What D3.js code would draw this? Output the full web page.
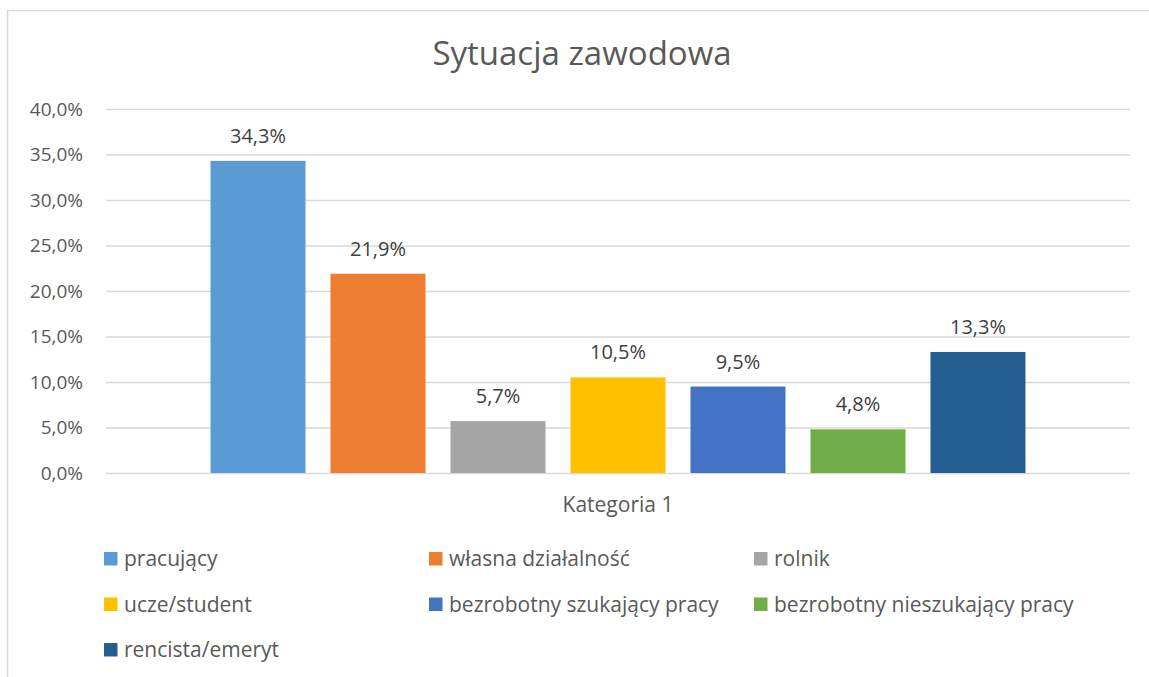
<!DOCTYPE html>
<html>
<head>
<meta charset="utf-8">
<script src="https://cdn.jsdelivr.net/npm/d3@7"></script>
<style>
  html, body { margin: 0; padding: 0; background: #fff; }
  svg { display: block; }
  text { font-family: "Open Sans", "Noto Sans", sans-serif; }
</style>
</head>
<body>
<svg id="chart" width="1149" height="677"></svg>
<script>
// Chart data
const title = "Sytuacja zawodowa";
const category = "Kategoria 1";
const seriesNames = [
  "pracujący",
  "własna działalność",
  "rolnik",
  "ucze/student",
  "bezrobotny szukający pracy",
  "bezrobotny nieszukający pracy",
  "rencista/emeryt"
];
const seriesValues = [34.3, 21.9, 5.7, 10.5, 9.5, 4.8, 13.3];
const seriesColors = ["#5B9BD5", "#ED7D31", "#A5A5A5", "#FFC000", "#4472C4", "#70AD47", "#255E91"];
const yTicks = [0, 5, 10, 15, 20, 25, 30, 35, 40];

const fmt = v => v.toFixed(1).replace(".", ",") + "%";

const svg = d3.select("#chart");
const plot = { left: 106, right: 1130, top: 109, bottom: 473 };

// Outer chart frame (extends past the right and bottom edges)
svg.append("rect")
  .attr("x", 7.5).attr("y", 10.5)
  .attr("width", 1160).attr("height", 700)
  .attr("fill", "#fff").attr("stroke", "#D9D9D9").attr("stroke-width", 1.5);

svg.append("text")
  .attr("x", 582).attr("y", 65)
  .attr("text-anchor", "middle")
  .attr("font-size", 33)
  .attr("fill", "#595959")
  .text(title);

const y = d3.scaleLinear().domain([0, 40]).range([plot.bottom, plot.top]);
const x = d3.scaleBand()
  .domain(seriesNames)
  .range([plot.left, plot.right])
  .paddingInner(25 / 120)
  .paddingOuter(0.871);

// Gridlines and value axis
const yAxis = d3.axisLeft(y)
  .tickValues(yTicks)
  .tickSize(-(plot.right - plot.left))
  .tickPadding(23)
  .tickFormat(fmt);

const gAxis = svg.append("g")
  .attr("transform", `translate(${plot.left},0)`)
  .call(yAxis);
gAxis.select(".domain").remove();
gAxis.selectAll(".tick line").attr("stroke", "#D9D9D9").attr("stroke-width", 1.5);
gAxis.selectAll(".tick text")
  .attr("fill", "#595959")
  .attr("font-size", 19)
  .attr("font-family", "Open Sans, sans-serif");

// Bars
svg.append("g").selectAll("rect")
  .data(seriesNames)
  .join("rect")
  .attr("x", d => x(d))
  .attr("width", x.bandwidth())
  .attr("y", (d, i) => y(seriesValues[i]))
  .attr("height", (d, i) => y(0) - y(seriesValues[i]))
  .attr("fill", (d, i) => seriesColors[i]);

// Data labels
svg.append("g").selectAll("text")
  .data(seriesNames)
  .join("text")
  .attr("x", d => x(d) + x.bandwidth() / 2)
  .attr("y", (d, i) => y(seriesValues[i]) - 18)
  .attr("text-anchor", "middle")
  .attr("font-size", 20)
  .attr("fill", "#404040")
  .text((d, i) => fmt(seriesValues[i]));

// Category axis label
svg.append("text")
  .attr("x", (plot.left + plot.right) / 2).attr("y", 512)
  .attr("text-anchor", "middle")
  .attr("font-size", 21)
  .attr("fill", "#595959")
  .text(category);

// Legend: three columns, filled row by row
const legendCols = [104, 429, 754];
const legendRows = [558.5, 604, 649.5];
const legend = svg.append("g").selectAll("g")
  .data(seriesNames)
  .join("g")
  .attr("transform", (d, i) => `translate(${legendCols[i % 3]},${legendRows[Math.floor(i / 3)]})`);
legend.append("rect")
  .attr("x", 0).attr("y", -6.5)
  .attr("width", 13.5).attr("height", 13.5)
  .attr("fill", (d, i) => seriesColors[i]);
legend.append("text")
  .attr("x", 20).attr("y", 7.5)
  .attr("font-size", 21)
  .attr("fill", "#595959")
  .text(d => d);
</script>
</body>
</html>
